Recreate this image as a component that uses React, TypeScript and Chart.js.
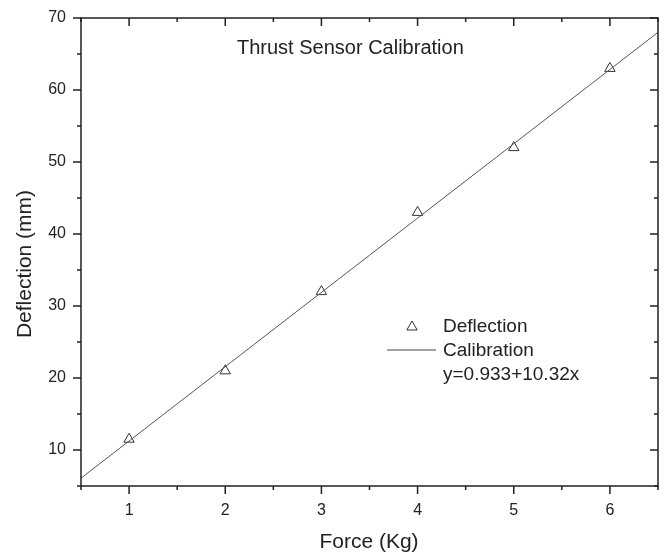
import { useEffect, useRef } from 'react';
import { Chart, registerables } from 'chart.js';

Chart.register(...registerables);

const forceKg = [1, 2, 3, 4, 5, 6];
const deflectionMm = [11.5, 21, 32, 43, 52, 63];
const fitX = [0.5, 6.5];
const fitY = [6.09, 68.01];
const xRange = [0.5, 6.5];
const yRange = [5, 70];
const chartTitle = 'Thrust Sensor Calibration';
const xTitle = 'Force (Kg)';
const yTitle = 'Deflection (mm)';
const legendLabels = ['Deflection', 'Calibration', 'y=0.933+10.32x'];

const FONT = '"Liberation Sans", Arial, sans-serif';
const INK = '#222';

const decorPlugin = {
  id: 'decor',
  afterDraw(chart: any) {
    const { ctx, chartArea } = chart;
    const { left, top, right, bottom } = chartArea;
    const xs = chart.scales.x;
    const ys = chart.scales.y;
    ctx.save();
    ctx.strokeStyle = INK;
    ctx.lineWidth = 1.5;
    ctx.strokeRect(left, top, right - left, bottom - top);
    xs.ticks.forEach((t: any) => {
      const major = Number.isInteger(t.value);
      const px = xs.getPixelForValue(t.value);
      const len = major ? 8 : 4;
      ctx.beginPath();
      ctx.moveTo(px, bottom);
      ctx.lineTo(px, bottom + len);
      ctx.moveTo(px, top);
      ctx.lineTo(px, top + len);
      ctx.stroke();
    });
    ys.ticks.forEach((t: any) => {
      const major = t.value % 10 === 0;
      const py = ys.getPixelForValue(t.value);
      const len = major ? 8 : 4;
      ctx.beginPath();
      ctx.moveTo(left, py);
      ctx.lineTo(left - len, py);
      ctx.moveTo(right, py);
      ctx.lineTo(right - len, py);
      ctx.stroke();
    });
    ctx.fillStyle = INK;
    ctx.font = `20px ${FONT}`;
    ctx.textAlign = 'left';
    ctx.textBaseline = 'middle';
    ctx.fillText(chartTitle, 237, 48);
    ctx.font = `21px ${FONT}`;
    ctx.textAlign = 'center';
    ctx.fillText(xTitle, 369, 542);
    ctx.save();
    ctx.translate(25, 264);
    ctx.rotate(-Math.PI / 2);
    ctx.fillText(yTitle, 0, 0);
    ctx.restore();
    ctx.textAlign = 'left';
    ctx.font = `19px ${FONT}`;
    ctx.fillText(legendLabels[0], 443, 327);
    ctx.fillText(legendLabels[1], 443, 351);
    ctx.fillText(legendLabels[2], 443, 375);
    const r = 6;
    const cx = 412, cy = 327;
    ctx.lineWidth = 1;
    ctx.strokeStyle = '#333';
    ctx.beginPath();
    ctx.moveTo(cx, cy - r);
    ctx.lineTo(cx + r * Math.cos(Math.PI / 6), cy + r * 0.5);
    ctx.lineTo(cx - r * Math.cos(Math.PI / 6), cy + r * 0.5);
    ctx.closePath();
    ctx.stroke();
    ctx.strokeStyle = '#444';
    ctx.beginPath();
    ctx.moveTo(387, 350);
    ctx.lineTo(436, 350);
    ctx.stroke();
    ctx.restore();
  },
};

export default function App() {
  const ref = useRef<HTMLCanvasElement | null>(null);
  useEffect(() => {
    if (!ref.current) return;
    const chart = new Chart(ref.current, {
      type: 'scatter',
      data: {
        datasets: [
          {
            label: legendLabels[1],
            data: fitX.map((x, i) => ({ x, y: fitY[i] })),
            showLine: true,
            borderColor: '#555',
            borderWidth: 1,
            pointRadius: 0,
          },
          {
            label: legendLabels[0],
            data: forceKg.map((x, i) => ({ x, y: deflectionMm[i] })),
            showLine: false,
            pointStyle: 'triangle',
            pointRadius: 6,
            borderColor: '#333',
            borderWidth: 1,
            backgroundColor: 'rgba(0,0,0,0)',
          },
        ],
      },
      options: {
        animation: false,
        responsive: false,
        layout: { padding: { top: 18, right: 8, left: 0, bottom: 0 } },
        plugins: {
          legend: { display: false },
          title: { display: false },
          tooltip: { enabled: false },
        },
        scales: {
          x: {
            type: 'linear',
            min: xRange[0],
            max: xRange[1],
            grid: { display: false, drawTicks: false },
            border: { display: false },
            ticks: {
              stepSize: 0.5,
              autoSkip: false,
              padding: 15,
              color: INK,
              font: { family: FONT, size: 16 },
              callback: (v: any) => (Number.isInteger(v) ? String(v) : ''),
            },
            afterFit: (s: any) => {
              s.height = 68;
              s.paddingLeft = 0;
              s.paddingRight = 0;
            },
          },
          y: {
            type: 'linear',
            min: yRange[0],
            max: yRange[1],
            grid: { display: false, drawTicks: false },
            border: { display: false },
            ticks: {
              stepSize: 5,
              autoSkip: false,
              padding: 15,
              color: INK,
              font: { family: FONT, size: 16 },
              callback: (v: any) => (v % 10 === 0 ? String(v) : ''),
            },
            afterFit: (s: any) => {
              s.width = 81;
              s.paddingTop = 0;
              s.paddingBottom = 0;
            },
          },
        },
      },
      plugins: [decorPlugin],
    });
    return () => chart.destroy();
  }, []);
  return (
    <div style={{ position: 'absolute', left: 0, top: 0, width: 666, height: 554, background: '#fff' }}>
      <canvas ref={ref} width={666} height={554} />
    </div>
  );
}
